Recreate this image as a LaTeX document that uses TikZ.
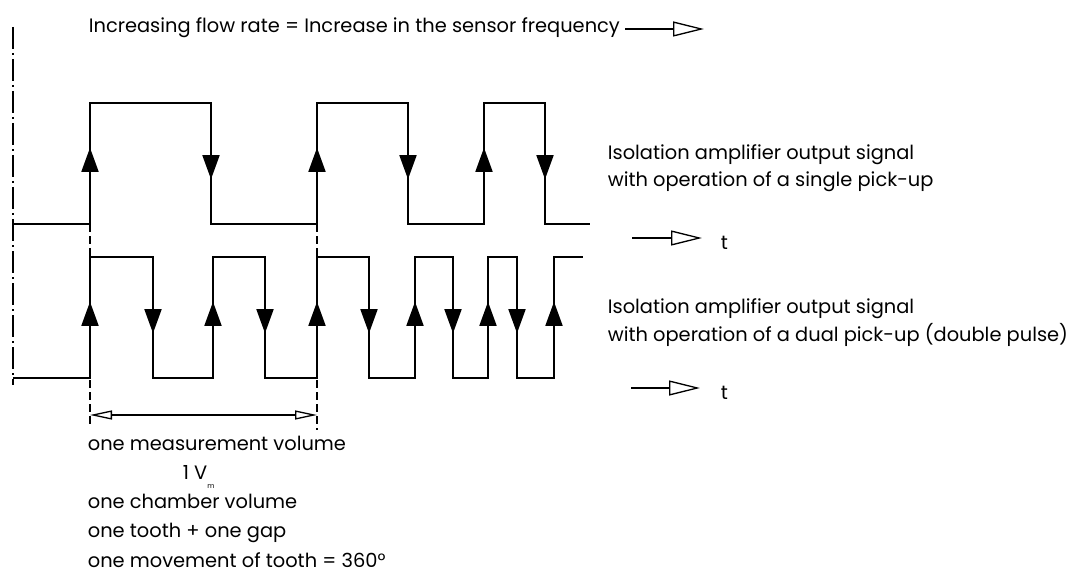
\documentclass[tikz,border=0pt]{standalone}
\usepackage{fontspec}
\setmainfont{Poppins}
\usetikzlibrary{arrows.meta,decorations.markings}

\begin{document}
\begin{tikzpicture}[x=1pt, y=-1pt, line width=1.7pt, font=\fontsize{19.4}{28}\selectfont,
   edge/.style={postaction={decorate}, decoration={markings, mark=at position 0.63 with {\arrow{Triangle[length=24pt,width=17pt]}}}},
   open/.style={line width=1.3pt, -{Triangle[open, length=31pt, width=15pt]}},
   dim/.style={line width=1.3pt, {Triangle[open, length=22pt, width=9pt]}-{Triangle[open, length=22pt, width=9pt]}},
   guide/.style={line width=1.3pt, dash pattern=on 8pt off 4pt},
   lbl/.style={anchor=base west, inner sep=0pt, align=left}]
  \useasboundingbox (0,0) rectangle (1068,572);
  % axis line on the left
  \draw[line width=1.3pt, dash pattern=on 22pt off 4pt on 2pt off 4pt] (13,27) -- (13,385);
  % single pick-up
  \draw (13,224) -- (90,224) -- (90,103) -- (211,103) -- (211,224) -- (317,224) -- (317,103) -- (408,103)
        -- (408,224) -- (484,224) -- (484,103) -- (545,103) -- (545,224) -- (590,224);
  \foreach \x in {90,317,484} \draw[edge] (\x,224) -- (\x,103);
  \foreach \x in {211,408,545} \draw[edge] (\x,103) -- (\x,224);
  % dual pick-up
  \draw (13,378) -- (90,378) -- (90,257) -- (153,257) -- (153,378) -- (213,378) -- (213,257) -- (265,257)
        -- (265,378) -- (317,378) -- (317,257) -- (369,257) -- (369,378) -- (415,378) -- (415,257)
        -- (453,257) -- (453,378) -- (488,378) -- (488,257) -- (517,257) -- (517,378) -- (554,378)
        -- (554,257) -- (583,257);
  \foreach \x in {90,213,317,415,488,554} \draw[edge] (\x,378) -- (\x,257);
  \foreach \x in {153,265,369,453,517} \draw[edge] (\x,257) -- (\x,378);
  % measurement volume
  \draw[guide] (90,224) -- (90,425);
  \draw[guide] (317,224) -- (317,430);
  \draw[dim] (90,415) -- (317,415);
  % texts
  \node[lbl] (title) at (88,33) {Increasing flow rate = Increase in the sensor frequency};
  \draw[open] (625,29) -- (704,29);
  \node[lbl] (single) at (607,187) {Isolation amplifier output signal\\with operation of a single pick-up};
  \draw[open] (632,238) -- (702,238);
  \node[lbl] (t1) at (720,249) {t};
  \node[lbl] (dual) at (607,341) {Isolation amplifier output signal\\with operation of a dual pick-up (double pulse)};
  \draw[open] (631,388) -- (700,388);
  \node[lbl] (t2) at (720,399) {t};
  \node[lbl, font=\fontsize{19.4}{29.2}\selectfont] (volume) at (87,567) {one measurement volume\\
    \hspace{95pt}1 V\raisebox{-9pt}{\fontsize{7}{7}\selectfont m}\\
    one chamber volume\\one tooth + one gap\\one movement of tooth = 360°};
\end{tikzpicture}
\end{document}
